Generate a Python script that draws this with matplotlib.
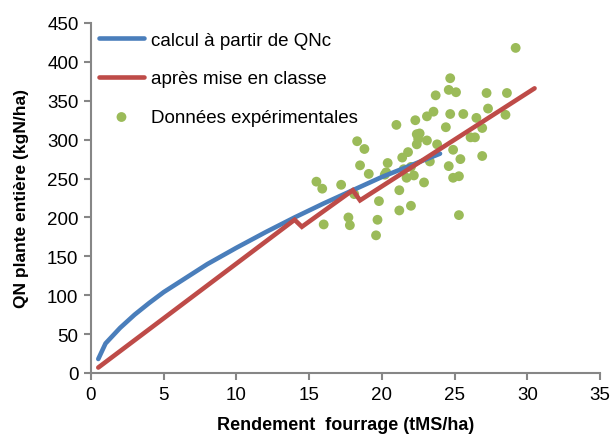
import matplotlib
matplotlib.use("Agg")
import matplotlib.pyplot as plt

plt.rcParams['font.family'] = ['Liberation Sans', 'DejaVu Sans']

# Blue curve: calcul à partir de QNc
qnc_x = [0.5, 1, 2, 3, 4, 5, 6, 8, 10, 12, 14, 16, 18, 20, 22, 24]
qnc_y = [18, 38, 58, 75, 90, 104, 116, 140, 161, 181, 200, 218, 235, 252, 267, 282]

# Red line: après mise en classe
cls_x = [0.5, 14.0, 14.5, 18.0, 18.5, 30.5]
cls_y = [7, 197, 188, 235, 222, 366]

# Données expérimentales
exp_x = [29.2, 24.7, 24.6, 25.1, 27.2, 28.6, 23.7, 23.55, 23.1, 24.7, 25.6, 27.3, 28.5,
         26.5, 22.3, 21.0, 24.4, 26.9, 26.1, 26.4, 22.4, 22.6, 22.5, 22.4, 23.1, 23.8,
         18.3, 18.8, 24.9, 21.8, 21.4, 26.9, 25.4, 23.3, 20.4, 18.5, 24.6, 22.0, 21.5,
         22.2, 21.7, 20.3, 20.2, 19.1, 24.9, 25.3, 22.9, 15.5, 17.2, 15.9, 21.2, 18.1,
         19.8, 22.0, 21.2, 25.3, 17.7, 19.7, 16.0, 17.8, 19.6]
exp_y = [418, 379, 364, 361, 360, 360, 357, 336, 330, 333, 333, 340, 332,
         328, 325, 319, 316, 315, 303, 303, 307, 308, 301, 294, 299, 294,
         298, 288, 287, 284, 277, 279, 275, 272, 270, 267, 266, 265, 262,
         254, 251, 258, 255, 256, 251, 253, 245, 246, 242, 237, 235, 230,
         221, 215, 209, 203, 200, 197, 191, 190, 177]

BLUE = '#4A7EBB'
RED = '#BE4B48'
GREEN = '#9BBB59'
GREY = '#868686'

fig = plt.figure(figsize=(6.11, 4.39), dpi=100)
ax = fig.add_axes([91/611, 1 - 374/439, (600 - 91)/611, (374 - 24)/439])

ax.plot(qnc_x, qnc_y, color=BLUE, lw=3.3, solid_capstyle='round', label='calcul à partir de QNc', zorder=3)
ax.plot(cls_x, cls_y, color=RED, lw=3.3, solid_capstyle='round', solid_joinstyle='miter',
        label='après mise en classe', zorder=3)
ax.scatter(exp_x, exp_y, s=50, color=GREEN, edgecolors='none', label='Données expérimentales', zorder=2)

ax.set_xlim(0, 35)
ax.set_ylim(0, 450)
ax.set_xticks(range(0, 36, 5))
ax.set_yticks(range(0, 451, 50))

for s in ['top', 'right']:
    ax.spines[s].set_visible(False)
for s in ['left', 'bottom']:
    ax.spines[s].set_color(GREY)
    ax.spines[s].set_linewidth(1.5)
ax.tick_params(axis='both', direction='out', length=5, width=1.5, color=GREY,
               labelsize=13.5, labelcolor='black', pad=4)

ax.set_xlabel('Rendement  fourrage (tMS/ha)', fontsize=13, fontweight='bold')
ax.set_ylabel('QN plante entière (kgN/ha)', fontsize=12.5, fontweight='bold')
ax.xaxis.set_label_coords(0.5, -0.123)
ax.yaxis.set_label_coords(-0.136, 0.5)
ax.yaxis.label.set_va('center')

leg = ax.legend(loc='upper left', bbox_to_anchor=(0.0, 1.0), frameon=False, fontsize=13.5,
                handlelength=2.35, handletextpad=0.38, labelspacing=1.15, borderaxespad=0.15,
                borderpad=0.3, scatterpoints=1, markerscale=1.0)

fig.savefig('out.png', dpi=100)
